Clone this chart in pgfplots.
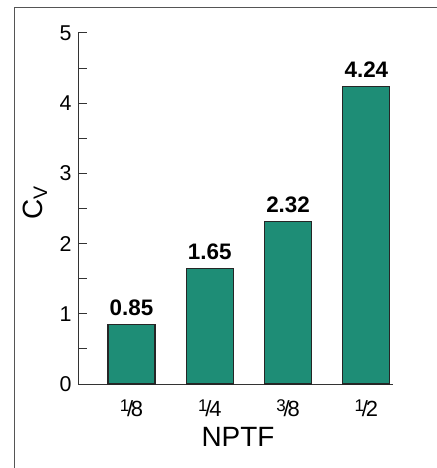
\documentclass[border=0pt]{standalone}
\usepackage{pgfplots}
\pgfplotsset{compat=1.18}
\usepackage{fontspec}
\setmainfont{Liberation Sans}
\definecolor{barfill}{RGB}{30,141,118}
\definecolor{framegray}{RGB}{85,85,85}
\newcommand{\fr}[2]{\raisebox{0.42ex}{\fontsize{17}{17}\selectfont #1}\kern-0.1em{\fontsize{22}{22}\selectfont/}\kern-0.1em#2}
\begin{document}
\begin{tikzpicture}[x=1bp,y=1bp]
\useasboundingbox (-78,-84) rectangle (359,384);
\draw[line width=1.5bp, color=framegray] (-63.5,-100) -- (-63.5,376.5) -- (400,376.5);
\begin{axis}[
  at={(0,0)}, anchor=south west,
  scale only axis, width=315bp, height=351bp,
  xmin=0.317, xmax=4.34, ymin=0, ymax=5,
  axis x line*=bottom, axis y line*=left,
  axis line style={line width=1bp, color=black!80},
  ytick={0,1,2,3,4,5}, minor y tick num=1,
  tick align=inside,
  major tick length=9bp, minor tick length=9bp,
  tick style={line width=1bp, color=black!80},
  xtick={1,2,3,4},
  xtick style={draw=none},
  xticklabels={\fr{1}{8},\fr{1}{4},\fr{3}{8},\fr{1}{2}},
  xticklabel style={anchor=base, yshift=-23bp, font=\fontsize{22}{22}\selectfont},
  yticklabel style={anchor=east, xshift=-3bp, font=\fontsize{21.5}{21.5}\selectfont},
  /pgf/number format/assume math mode=true,
  ybar, bar width=47bp,
  point meta=explicit symbolic,
  nodes near coords={\bfseries\fontsize{22.5}{22.5}\selectfont\pgfplotspointmeta},
  every node near coord/.append style={anchor=base, yshift=9bp},
  xlabel={NPTF},
  ylabel={C\textsubscript{V}},
  xlabel style={at={(axis description cs:0.508,-0.179)}, anchor=base, font=\fontsize{28}{28}\selectfont},
  every axis y label/.style={at={(axis description cs:-0.137,0.516)}, anchor=center, rotate=90, font=\fontsize{28}{28}\selectfont},
]
\addplot[fill=barfill, draw=black!85, line width=1.2bp] coordinates {(1,0.85) [0.85] (2,1.65) [1.65] (3,2.32) [2.32] (4,4.24) [4.24]};
\end{axis}
\end{tikzpicture}
\end{document}
